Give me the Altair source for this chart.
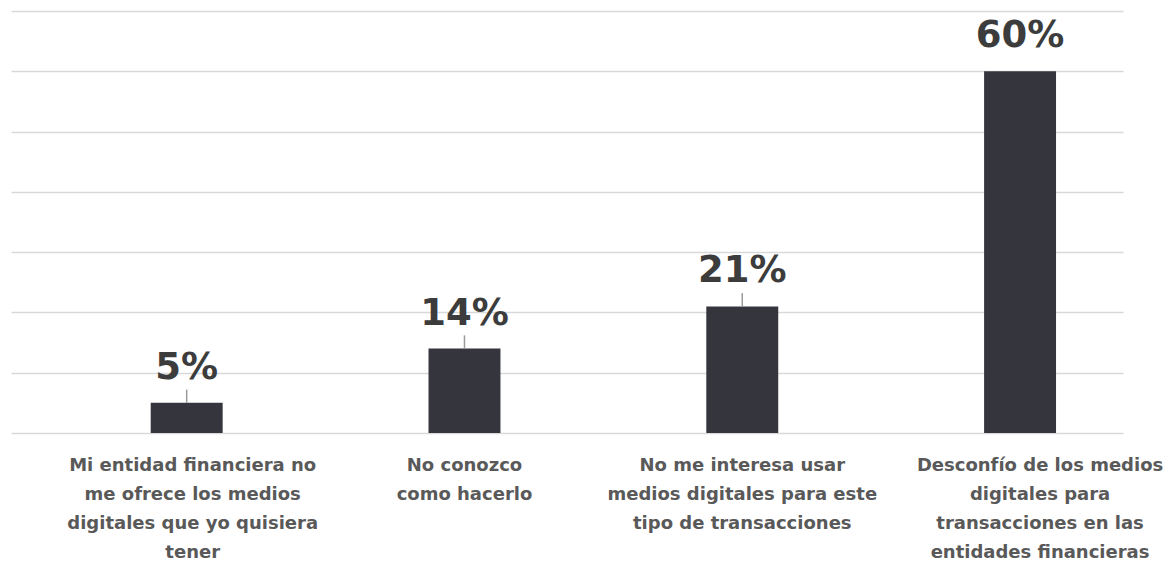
import altair as alt
import pandas as pd

categories = [
    "Mi entidad financiera no\nme ofrece los medios\ndigitales que yo quisiera\ntener",
    "No conozco\ncomo hacerlo",
    "No me interesa usar\nmedios digitales para este\ntipo de transacciones",
    "Desconfío de los medios\ndigitales para\ntransacciones en las\nentidades financieras",
]
values = [5, 14, 21, 60]
value_labels = ["5%", "14%", "21%", "60%"]

df = pd.DataFrame({"cat": categories, "value": values, "label": value_labels})

x = alt.X(
    "cat:N",
    sort=categories,
    scale=alt.Scale(paddingInner=0.741, paddingOuter=0.372, align=0.676),
    axis=alt.Axis(
        title=None,
        labelAngle=0,
        labelExpr="split(datum.label, '\\n')",
        labelFont="DejaVu Sans",
        labelFontWeight="bold",
        labelFontSize=18,
        labelColor="#595959",
        labelLineHeight=29,
        labelPadding=23,
        labelLimit=400,
        labelOffset={
            "condition": [
                {"test": "indexof(datum.value, 'Desconf') == 0", "value": 20},
                {"test": "indexof(datum.value, 'Mi entidad') == 0", "value": 6},
            ],
            "value": 0,
        },
        ticks=False,
        domain=False,
        grid=False,
    ),
)
y = alt.Y(
    "value:Q",
    scale=alt.Scale(domain=[0, 70], nice=False),
    axis=alt.Axis(
        title=None,
        values=[0, 10, 20, 30, 40, 50, 60, 70],
        labels=False,
        ticks=False,
        domain=False,
        grid=True,
        gridColor="#d9d9d9",
        gridWidth=1.5,
    ),
)

base = alt.Chart(df)

bars = base.mark_bar(color="#35353e").encode(x=x, y=y)

leaders = (
    base.transform_filter("datum.value < 50")
    .transform_calculate(top="datum.value + 2.2")
    .mark_rule(color="#9a9a9a", strokeWidth=1.5)
    .encode(x=alt.X("cat:N", sort=categories), y="value:Q", y2="top:Q")
)

texts = base.mark_text(
    font="DejaVu Sans",
    fontWeight="bold",
    fontSize=37,
    color="#3c3c3c",
    baseline="bottom",
    dy=-16,
).encode(x=alt.X("cat:N", sort=categories), y="value:Q", text="label:N")

chart = (
    alt.layer(bars, leaders, texts)
    .properties(
        width=1112,
        height=422,
        padding={"left": 3, "top": 3, "right": 0, "bottom": 0},
        background="white",
    )
    .configure_view(strokeWidth=0, stroke=None)
)

chart.save("out.html", embed_options={"renderer": "svg", "actions": False})
